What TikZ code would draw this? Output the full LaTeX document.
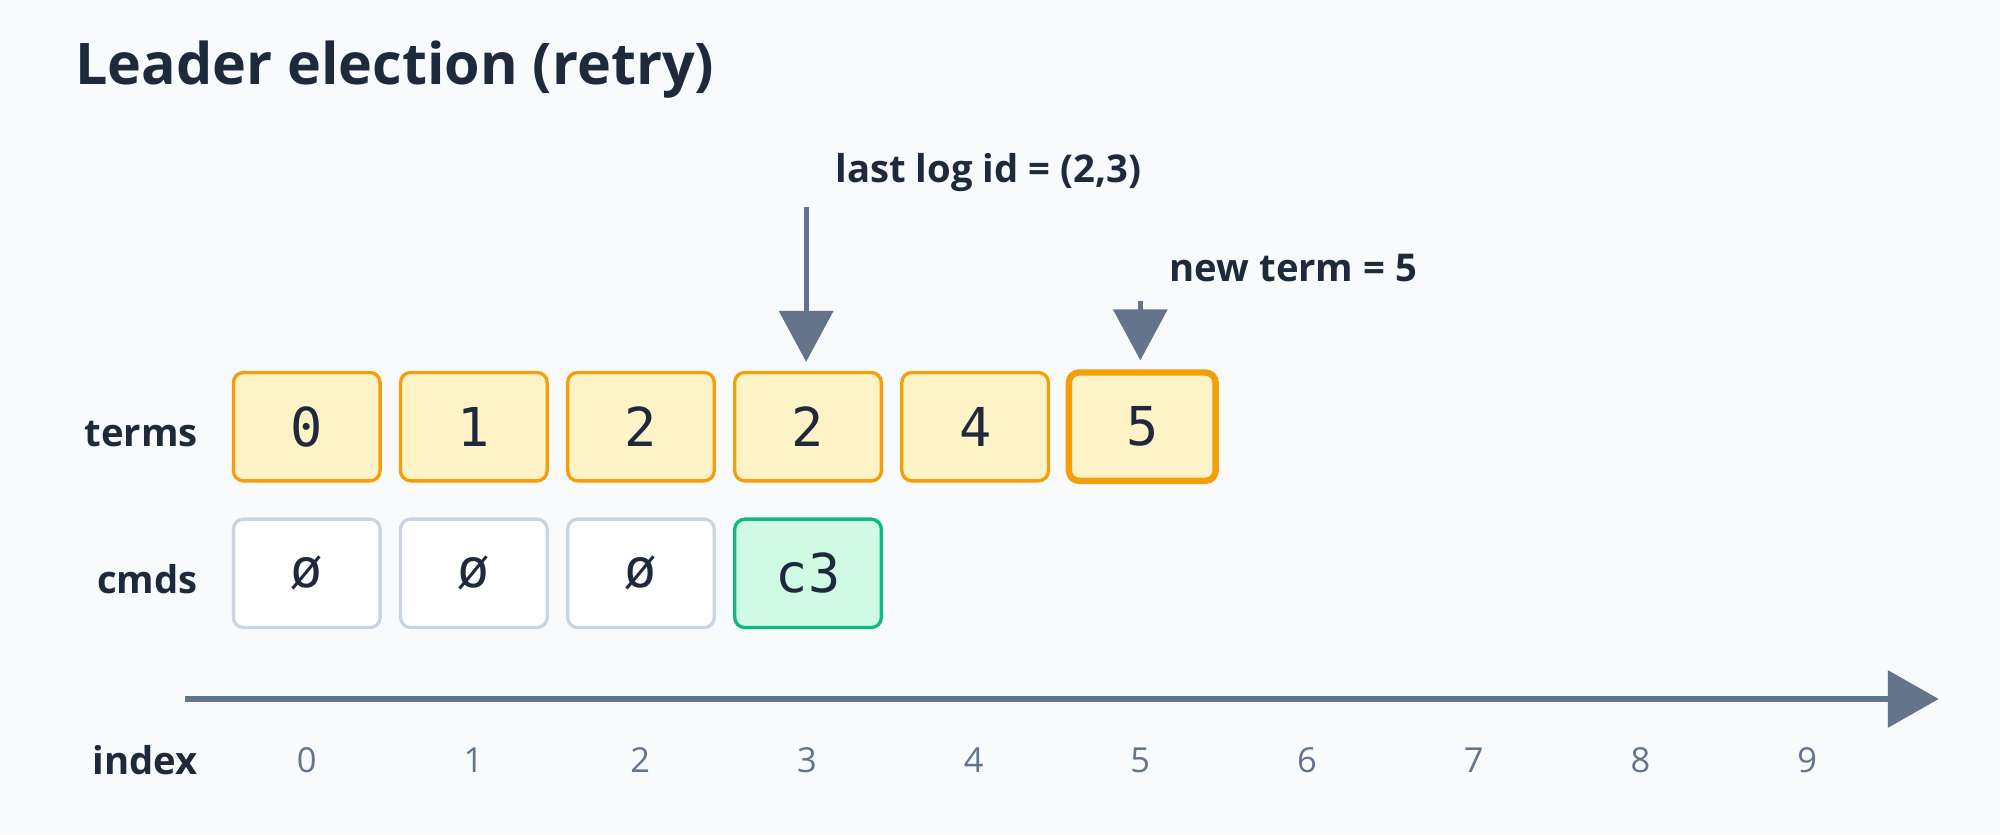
\documentclass[tikz,border=0pt]{standalone}
\usepackage{fontspec}
\setmainfont{Open Sans}
\newfontfamily\monof{DejaVu Sans Mono}
\usetikzlibrary{arrows.meta}
\definecolor{bg}{HTML}{F8FAFC}
\definecolor{ink}{HTML}{1E293B}
\definecolor{gr}{HTML}{64748B}
\definecolor{tfill}{HTML}{FEF3C7}
\definecolor{tline}{HTML}{F59E0B}
\definecolor{eline}{HTML}{CBD5E1}
\definecolor{cfill}{HTML}{D1FAE5}
\definecolor{cline}{HTML}{10B981}
\begin{document}
\begin{tikzpicture}[x=0.5pt,y=-0.5pt,
  cell/.style={minimum width=57.5pt,minimum height=42.5pt,rounded corners=4pt,line width=1.3pt,font=\monof\fontsize{21}{21}\selectfont,text=ink,inner sep=0pt},
  term/.style={cell,draw=tline,fill=tfill},
  empty/.style={cell,draw=eline,fill=white},
  cmd/.style={cell,draw=cline,fill=cfill},
  rowlab/.style={anchor=east,font=\bfseries\fontsize{15}{15}\selectfont,text=ink},
  idx/.style={font=\fontsize{13.5}{13.5}\selectfont,text=gr},
  note/.style={anchor=west,font=\bfseries\fontsize{15}{15}\selectfont,text=ink},
  ptr/.style={draw=gr,line width=2pt,-{Triangle[length=20pt,width=21pt]},shorten >=3.5pt}]
\fill[bg] (0,0) rectangle (1568,654);
\node[anchor=base west,font=\bfseries\fontsize{22.5}{22.5}\selectfont,text=ink] (title) at (52,66) {Leader election (retry)};
\foreach \i/\v in {0/0,1/1,2/2,3/2,4/4}
  \node[term] (t\i) at (240.5+131*\i,334.5) {\v};
\node[term,line width=2.5pt] (t5) at (895.5,334.5) {5};
\foreach \i in {0,1,2}
  \node[empty] (c\i) at (240.5+131*\i,449.5) {ø};
\node[cmd] (c3) at (633.5,449.5) {c3};
\node[rowlab] (lt) at (162,340) {terms};
\node[rowlab] (lc) at (162,454) {cmds};
\node[rowlab] (li) at (162,596) {index};
\foreach \i in {0,...,9}
  \node[idx] (n\i) at (240.5+130.7*\i,596) {\i};
\coordinate (ax0) at (145,548);
\coordinate (ax1) at (1520,548);
\draw[draw=gr,line width=2.5pt,-{Triangle[length=20pt,width=22pt]}] (ax0) -- (ax1);
\node[note] (l1) at (648,135) {last log id = (2,3)};
\node[note] (l2) at (910,210) {new term = 5};
\coordinate (s1) at (632,162);
\coordinate (s2) at (894,236);
\draw[ptr] (s1) -- (s1 |- t3.north);
\draw[ptr] (s2) -- (s2 |- t5.north);
\end{tikzpicture}
\end{document}
